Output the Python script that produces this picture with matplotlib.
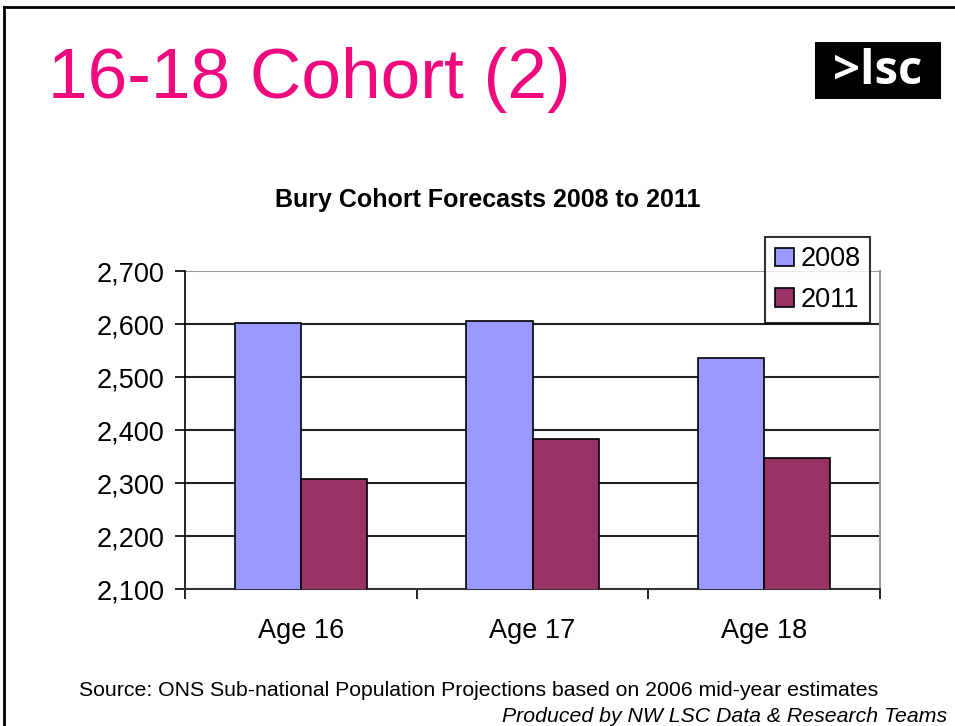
import numpy as np
import matplotlib
matplotlib.use("Agg")
import matplotlib.pyplot as plt
from matplotlib.patches import Rectangle
from matplotlib.lines import Line2D

plt.rcParams['font.family'] = ['Liberation Sans', 'DejaVu Sans']

categorias = ["Age 16", "Age 17", "Age 18"]
series = ["2008", "2011"]
valores_2008 = [2602, 2606, 2536]
valores_2011 = [2307, 2383, 2348]
ticks_y = [2100, 2200, 2300, 2400, 2500, 2600, 2700]

colores = ["#9999FF", "#993366"]

fig = plt.figure(figsize=(9.55, 7.26), dpi=100)
fig.patch.set_facecolor("white")

# marco de la diapositiva (solo arriba e izquierda)
fig.add_artist(Line2D([4 / 955, 4 / 955], [0, 1 - 7 / 726], transform=fig.transFigure, color="black", lw=2))
fig.add_artist(Line2D([4 / 955, 1], [1 - 7 / 726, 1 - 7 / 726], transform=fig.transFigure, color="black", lw=2))

fig.text(48 / 955, 1 - 98 / 726, "16-18 Cohort (2)", fontsize=51.3, color="#F0087F", ha="left", va="baseline")

# logo
fig.add_artist(Rectangle((815 / 955, 1 - 99 / 726), 126 / 955, 57 / 726, transform=fig.transFigure,
                         facecolor="black", edgecolor="none"))
fig.text(878 / 955, 1 - 71 / 726, ">lsc", fontsize=34, color="white", fontweight="bold",
         ha="center", va="center", family=["Open Sans", "DejaVu Sans"])

fig.text(488 / 955, 1 - 207 / 726, "Bury Cohort Forecasts 2008 to 2011", fontsize=18,
         fontweight="bold", ha="center", va="baseline")

ax = fig.add_axes([185 / 955, 1 - 589 / 726, 695 / 955, 318 / 726])
x = np.arange(len(categorias))
ancho = 1 / 3.5
ax.bar(x - ancho / 2, valores_2008, ancho, color=colores[0], edgecolor="black", lw=1.2, label=series[0], zorder=3)
ax.bar(x + ancho / 2, valores_2011, ancho, color=colores[1], edgecolor="black", lw=1.2, label=series[1], zorder=3)

ax.set_xlim(-0.5, 2.5)
ax.set_ylim(2100, 2700)
ax.set_yticks(ticks_y)
ax.set_yticklabels([f"{v:,}" for v in ticks_y], fontsize=19.5)
ax.set_xticks(x)
ax.set_xticklabels(categorias, fontsize=19.5)
ax.tick_params(axis="x", which="major", length=0, pad=21)
ax.set_xticks([-0.5, 0.5, 1.5, 2.5], minor=True)
ax.tick_params(axis="x", which="minor", length=7, width=1.2, direction="out")
ax.tick_params(axis="y", length=7, width=1.2, direction="out", pad=8)
for v in ticks_y[1:-1]:
    ax.axhline(v, color="#222222", lw=1.5, zorder=1)
ax.axhline(2700, color="#999999", lw=1.5, zorder=1)

ax.spines["top"].set_visible(False)
ax.spines["right"].set_color("#999999")
ax.spines["right"].set_linewidth(1.5)
ax.spines["left"].set_linewidth(1.2)
ax.spines["bottom"].set_color("#333333")
ax.spines["bottom"].set_linewidth(1.5)

leg = ax.legend(loc="upper right", bbox_to_anchor=(870 / 955, 1 - 237 / 726), bbox_transform=fig.transFigure,
                fontsize=19.5, frameon=True, fancybox=False, handlelength=0.7, handleheight=0.7,
                handletextpad=0.25, borderpad=0.35, labelspacing=0.55, borderaxespad=0)
leg.get_frame().set_edgecolor("black")
leg.get_frame().set_linewidth(1.5)
leg.set_zorder(5)

fig.text(479 / 955, 1 - 690 / 726, "Source: ONS Sub-national Population Projections based on 2006 mid-year estimates",
         fontsize=15.3, ha="center", va="center")
fig.text(947 / 955, 1 - 716 / 726, "Produced by NW LSC Data & Research Teams",
         fontsize=15.3, style="italic", ha="right", va="center")

fig.savefig("out.png", dpi=100)
